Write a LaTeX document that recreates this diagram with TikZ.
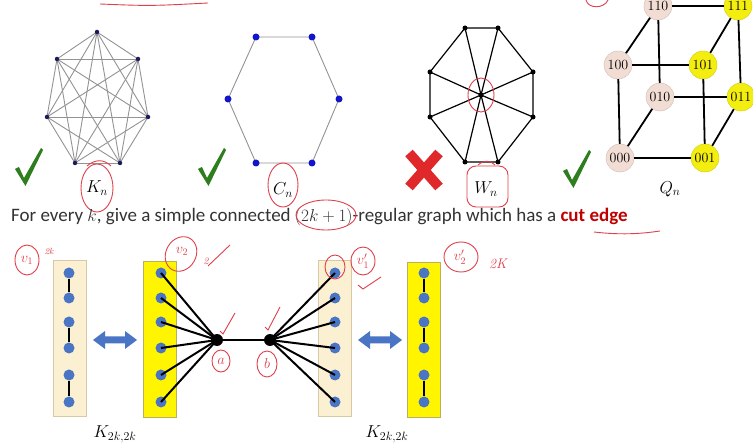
\documentclass[tikz,border=0pt]{standalone}
\usepackage{fontspec}
\newfontfamily\carl{Carlito}
\definecolor{knv}{HTML}{1A1A5E}
\definecolor{cnv}{HTML}{1414C8}
\definecolor{qpale}{HTML}{F2DDD4}
\definecolor{qyel}{HTML}{F4EE10}
\definecolor{dotblue}{HTML}{4A74C4}
\definecolor{palebox}{HTML}{FBF0D2}
\definecolor{paleborder}{HTML}{D8C9A6}
\definecolor{yelbox}{HTML}{FFF500}
\definecolor{yelborder}{HTML}{B8B060}
\definecolor{darkred}{HTML}{C00000}
\definecolor{pen}{HTML}{E0404A}
\definecolor{okgreen}{HTML}{2E7D1E}
\definecolor{xred}{HTML}{E0282A}
\tikzset{
  kdot/.style={circle,fill=knv,inner sep=0pt,minimum size=4.5pt},
  cdot/.style={circle,fill=cnv,inner sep=0pt,minimum size=7pt},
  wdot/.style={circle,fill=black,inner sep=0pt,minimum size=5pt},
  qpalenode/.style={circle,fill=qpale,draw=qpale!85!black,line width=0.4pt,inner sep=0pt,minimum size=28pt,font=\fontsize{14}{14}\selectfont},
  qyelnode/.style={circle,fill=qyel,draw=qyel!85!black,line width=0.4pt,inner sep=0pt,minimum size=28pt,font=\fontsize{14}{14}\selectfont},
  bdot/.style={circle,fill=dotblue,inner sep=0pt,minimum size=11pt},
  bigdot/.style={circle,fill=black,inner sep=0pt,minimum size=12pt},
  lbl/.style={font=\fontsize{17}{17}\selectfont},
  penline/.style={draw=pen,line width=0.9pt},
  pentext/.style={text=pen,inner sep=0pt,font=\fontsize{14}{14}\selectfont\itshape},
  grayedge/.style={draw=gray!85,line width=0.9pt},
  qedge/.style={draw=black,line width=1.8pt},
  bedge/.style={draw=black,line width=2pt},
}
\newcommand\okcheck[2]{%
  \fill[okgreen] (#1-9,#2-17) -- (#1-5,#2-19) -- (#1,#2-8) -- (#1+17,#2-38) -- (#1+19,#2-36) -- (#1+1.5,#2) -- cycle;}
\begin{document}
\begin{tikzpicture}[x=1pt,y=-1pt]
\useasboundingbox (0,0) rectangle (753,446);
\fill[white] (0,0) rectangle (753,446);

% top red underline fragment
\draw[penline] (100,4) .. controls (150,6) .. (208,3);
\draw[penline] (586,0) .. controls (588,9) and (604,9) .. (608,0);

% ---------- K_n ----------
\coordinate (k1) at (97,32);
\coordinate (k2) at (138,59);
\coordinate (k3) at (148,117);
\coordinate (k4) at (120,163);
\coordinate (k5) at (75,163);
\coordinate (k6) at (47,117);
\coordinate (k7) at (57,59);
\foreach \i in {1,...,7}{\foreach \j in {1,...,7}{\ifnum\i<\j \draw[grayedge] (k\i) -- (k\j);\fi}}
\foreach \i in {1,...,7}{\node[kdot] (kd\i) at (k\i) {};}
\node[lbl] (kn) at (97,188) {$K_n$};
\draw[penline] (kn) ellipse (16pt and 24pt);
\draw[penline] (87,166) .. controls (95,159) and (104,159) .. (111,166);
\okcheck{24}{186}

% ---------- C_n ----------
\coordinate (c1) at (256,37);
\coordinate (c2) at (312,37);
\coordinate (c3) at (339,99);
\coordinate (c4) at (312,163);
\coordinate (c5) at (256,163);
\coordinate (c6) at (228,99);
\draw[grayedge] (c1) -- (c2) -- (c3) -- (c4) -- (c5) -- (c6) -- cycle;
\foreach \i in {1,...,6}{\node[cdot] (cd\i) at (c\i) {};}
\node[lbl] (cn) at (283,190) {$C_n$};
\draw[penline] (283,185) ellipse (15pt and 22pt);
\okcheck{207}{186}

% ---------- W_n ----------
\coordinate (w0) at (481,95);
\coordinate (w1) at (465,28);
\coordinate (w2) at (498,28);
\coordinate (w3) at (533,72);
\coordinate (w4) at (533,117);
\coordinate (w5) at (498,162);
\coordinate (w6) at (465,162);
\coordinate (w7) at (430,117);
\coordinate (w8) at (430,72);
\draw[black,line width=1.2pt] (w1) -- (w2) -- (w3) -- (w4) -- (w5) -- (w6) -- (w7) -- (w8) -- cycle;
\foreach \i in {1,...,8}{\draw[black,line width=1.2pt] (w0) -- (w\i);}
\foreach \i in {0,...,8}{\node[wdot] (wd\i) at (w\i) {};}
\draw[penline] (w0) ellipse (13pt and 17pt);
\node[lbl] (wn) at (486,189) {$W_n$};
\draw[penline,rounded corners=9pt] (467,166) rectangle (508,207);
\draw[penline] (478,165) .. controls (484,160) and (490,160) .. (495,165);
\draw[xred,line width=10pt] (409,153) -- (439,187);
\draw[xred,line width=10pt] (439,153) -- (409,187);

% ---------- Q_n ----------
\node[qpalenode] (q110) at (658,6) {110};
\node[qyelnode]  (q111) at (738,6) {111};
\node[qpalenode] (q100) at (618,65) {100};
\node[qyelnode]  (q101) at (703,65) {101};
\node[qpalenode] (q010) at (660,97) {010};
\node[qyelnode]  (q011) at (741,97) {011};
\node[qpalenode] (q000) at (620,158) {000};
\node[qyelnode]  (q001) at (705,158) {001};
\draw[qedge] (q000) -- (q001);
\draw[qedge] (q000) -- (q100);
\draw[qedge] (q000) -- (q010);
\draw[qedge] (q100) -- (q101);
\draw[qedge] (q100) -- (q110);
\draw[qedge] (q010) -- (q011);
\draw[qedge] (q010) -- (q110);
\draw[qedge] (q001) -- (q101);
\draw[qedge] (q001) -- (q011);
\draw[qedge] (q101) -- (q111);
\draw[qedge] (q011) -- (q111);
\draw[qedge] (q110) -- (q111);
\node[lbl] (qn) at (670,189) {$Q_n$};
\okcheck{572}{188}

% ---------- sentence ----------
\node[anchor=base west,inner sep=0pt,font=\carl\fontsize{19}{22}\selectfont,text=black!80] (sent) at (11,222)
  {For every $k$, give a simple connected $(2k+1)$-regular graph which has a \textbf{\color{darkred}cut edge}};
\draw[penline] (326,215) ellipse (30pt and 15pt);
\draw[penline] (594,232) .. controls (620,235) and (640,234) .. (660,231);

% ---------- bottom construction ----------
\fill[palebox,draw=paleborder,line width=0.6pt] (53,260) rectangle (86,416);
\fill[yelbox,draw=yelborder,line width=0.6pt] (143,261) rectangle (176,417);
\fill[palebox,draw=paleborder,line width=0.6pt] (318,260) rectangle (351,416);
\fill[yelbox,draw=yelborder,line width=0.6pt] (407,262) rectangle (440,417);

\foreach \i/\yy in {1/273,2/298,3/322,4/348,5/375,6/402}{
  \node[bdot] (la\i) at (69,\yy) {};
  \node[bdot] (ya\i) at (161,\yy) {};
  \node[bdot] (pb\i) at (335,\yy) {};
  \node[bdot] (yb\i) at (424,\yy) {};
}
\draw[bedge] (la1) -- (la2); \draw[bedge] (la3) -- (la4); \draw[bedge] (la5) -- (la6);
\draw[bedge] (yb1) -- (yb2); \draw[bedge] (yb3) -- (yb4); \draw[bedge] (yb5) -- (yb6);

\coordinate (ac) at (217,340);
\coordinate (bc) at (270,340);
\foreach \i in {1,...,6}{\draw[bedge] (ac) -- (ya\i.center);}
\foreach \i in {1,...,6}{\draw[bedge] (bc) -- (pb\i.center);}
\draw[bedge] (ac) -- (bc);
\node[bigdot] (a) at (ac) {};
\node[bigdot] (b) at (bc) {};

% double arrows
\foreach \dx in {0,265}{
  \fill[dotblue] (93+\dx,340) -- (105+\dx,331) -- (105+\dx,336.5) -- (125+\dx,336.5) -- (125+\dx,331) -- (137+\dx,340)
     -- (125+\dx,349) -- (125+\dx,343.5) -- (105+\dx,343.5) -- (105+\dx,349) -- cycle;
}

\node[lbl] (kl) at (115,434) {$K_{2k,2k}$};
\node[lbl] (kr) at (387,434) {$K_{2k,2k}$};

% red handwritten annotations
\node[pentext] (v1) at (27,260) {$v_1$};
\draw[penline] (27,260) ellipse (12pt and 15pt);
\node[pentext,font=\fontsize{9}{9}\selectfont\itshape] (v1k) at (49,251) {2k};
\node[pentext] (v2) at (182,251) {$v_2$};
\draw[penline,rotate around={-30:(181,254)}] (181,254) ellipse (15pt and 18pt);
\node[pentext,font=\fontsize{10}{10}\selectfont\itshape] (v2n) at (206,261) {2};
\draw[penline] (208,266) -- (230,245);
\draw[penline] (335,267) ellipse (10pt and 12pt);
\node[pentext] (v1p) at (363,261) {$v_1'$};
\draw[penline] (363,261) ellipse (12pt and 14pt);
\draw[penline] (358,285) -- (363,289) -- (381,277);
\node[pentext] (v2p) at (460,257) {$v_2'$};
\draw[penline] (461,257) ellipse (17pt and 15pt);
\node[pentext] (v2k) at (498,264) {2K};
\draw[penline] (220,331) -- (223,334) -- (235,313);
\draw[penline] (265,327) -- (268,330) -- (280,307);
\node[pentext] (al) at (221,361) {$a$};
\draw[penline] (221,361) ellipse (9pt and 11pt);
\node[pentext] (bl) at (267,364) {$b$};
\draw[penline] (267,364) ellipse (10pt and 13pt);
\end{tikzpicture}
\end{document}
